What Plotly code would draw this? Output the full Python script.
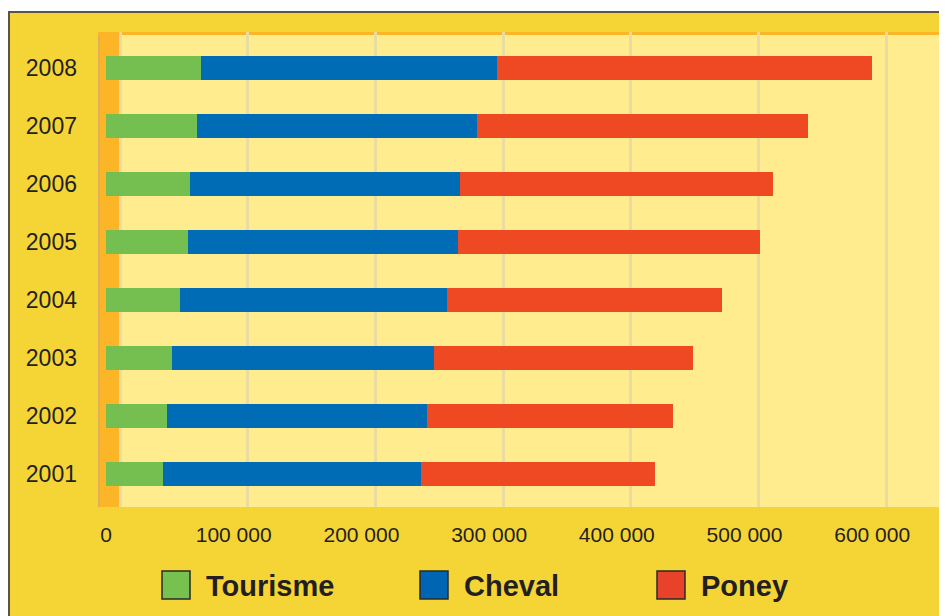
import plotly.graph_objects as go

# ---- data ----
years = ["2001", "2002", "2003", "2004", "2005", "2006", "2007", "2008"]
tourisme = [44600, 47800, 51700, 58000, 64000, 65800, 71000, 74400]
cheval = [202400, 203200, 205300, 209000, 212000, 211200, 219500, 231600]
poney = [183000, 193000, 203000, 215000, 236000, 245000, 259000, 294000]
series_names = ["Tourisme", "Cheval", "Poney"]
series_values = [tourisme, cheval, poney]
series_colors = ["#74bf50", "#006cb6", "#ef4923"]
legend_colors = ["#77c24f", "#0066b3", "#e8432a"]
x_tick_values = [0, 100000, 200000, 300000, 400000, 500000, 600000]
x_tick_labels = ["0", "100 000", "200 000", "300 000", "400 000", "500 000", "600 000"]

OFF = 8  # page body margin
W, H = 947 - OFF, 616 - OFF
L, R, T, B = 98 - OFF, 0, 32 - OFF, 616 - 507
PW = W - L - R
PH = H - T - B

def fx(px):  # px in window coordinates
    return (px - OFF - L) / PW

def fy(py):
    return (H - B - (py - OFF)) / PH

FONT = "Liberation Sans, Arial, sans-serif"
TXT = "#231f20"

# front plane: 0 at 106 px, 127.7 px per 100 000; back wall shifted 14 px right
x_range = [(98 - 106) / 127.7 * 100000, (947 - 106) / 127.7 * 100000]
depth = 14 / 127.7 * 100000
x_range_back = [x_range[0] - depth, x_range[1] - depth]

fig = go.Figure()
# empty trace that carries the back-wall grid axis
fig.add_trace(go.Scatter(x=[], y=[], xaxis="x2", yaxis="y", showlegend=False,
                         hoverinfo="skip", mode="markers"))
for name, vals, color in zip(series_names, series_values, series_colors):
    fig.add_trace(go.Bar(
        y=years, x=vals, orientation="h", name=name,
        marker=dict(color=color, line=dict(width=0)),
        width=0.4, showlegend=False, xaxis="x", yaxis="y",
    ))

shapes = []
# side wall and top edge
shapes.append(dict(type="rect", xref="paper", yref="paper", x0=0, x1=22 / PW,
                   y0=0, y1=1, fillcolor="#fcb526", line=dict(width=0), layer="below"))
shapes.append(dict(type="rect", xref="paper", yref="paper", x0=0, x1=2 / PW,
                   y0=0, y1=1, fillcolor="#e3ae5c", line=dict(width=0), layer="below"))
shapes.append(dict(type="rect", xref="paper", yref="paper", x0=0, x1=1,
                   y0=1 - 3 / PH, y1=1, fillcolor="#fcb526", line=dict(width=0), layer="below"))
# outer frame
shapes.append(dict(type="rect", xref="paper", yref="paper", x0=fx(0), x1=fx(960),
                   y0=fy(12), y1=fy(0), fillcolor="white", line=dict(width=0), layer="above"))
shapes.append(dict(type="line", xref="paper", yref="paper", x0=fx(8), x1=fx(960),
                   y0=fy(12), y1=fy(12), line=dict(color="#5a5448", width=2), layer="above"))
shapes.append(dict(type="line", xref="paper", yref="paper", x0=fx(9), x1=fx(9),
                   y0=fy(12), y1=fy(630), line=dict(color="#5a5448", width=2), layer="above"))

annotations = []
legend_sq_x = [162, 420, 657]
for name, color, sx in zip(series_names, legend_colors, legend_sq_x):
    shapes.append(dict(type="rect", xref="paper", yref="paper", x0=fx(sx), x1=fx(sx + 28),
                       y0=fy(599), y1=fy(571), fillcolor=color,
                       line=dict(color="#2a2a2a", width=1.5), layer="above"))
    annotations.append(dict(xref="paper", yref="paper", x=fx(sx + 42), y=fy(586),
                            xanchor="left", yanchor="middle", text="<b>%s</b>" % name,
                            showarrow=False, font=dict(family=FONT, size=29, color=TXT)))

fig.update_layout(
    width=W, height=H, autosize=False,
    margin=dict(l=L, r=R, t=T, b=B, pad=0),
    barmode="stack",
    plot_bgcolor="#feec8f", paper_bgcolor="#f5d535",
    shapes=shapes, annotations=annotations, showlegend=False,
    xaxis=dict(
        range=x_range,
        tickvals=x_tick_values, ticktext=x_tick_labels,
        showgrid=False, zeroline=False,
        showline=False, ticks="outside", ticklen=9, tickcolor="rgba(0,0,0,0)",
        tickfont=dict(family=FONT, size=21, color=TXT), fixedrange=True,
    ),
    xaxis2=dict(
        range=x_range_back, overlaying="x", anchor="y", side="bottom",
        tickvals=x_tick_values, showticklabels=False, ticks="",
        showgrid=True, gridcolor="#eadb9f", gridwidth=3, zeroline=False,
        showline=False, fixedrange=True,
    ),
    yaxis=dict(
        type="category", categoryorder="array", categoryarray=years,
        range=[-0.569, 7.62], showgrid=False, zeroline=False, showline=False,
        ticks="", ticklabelstandoff=20,
        tickfont=dict(family=FONT, size=23, color=TXT), fixedrange=True,
    ),
)

fig.write_html("out.html")
